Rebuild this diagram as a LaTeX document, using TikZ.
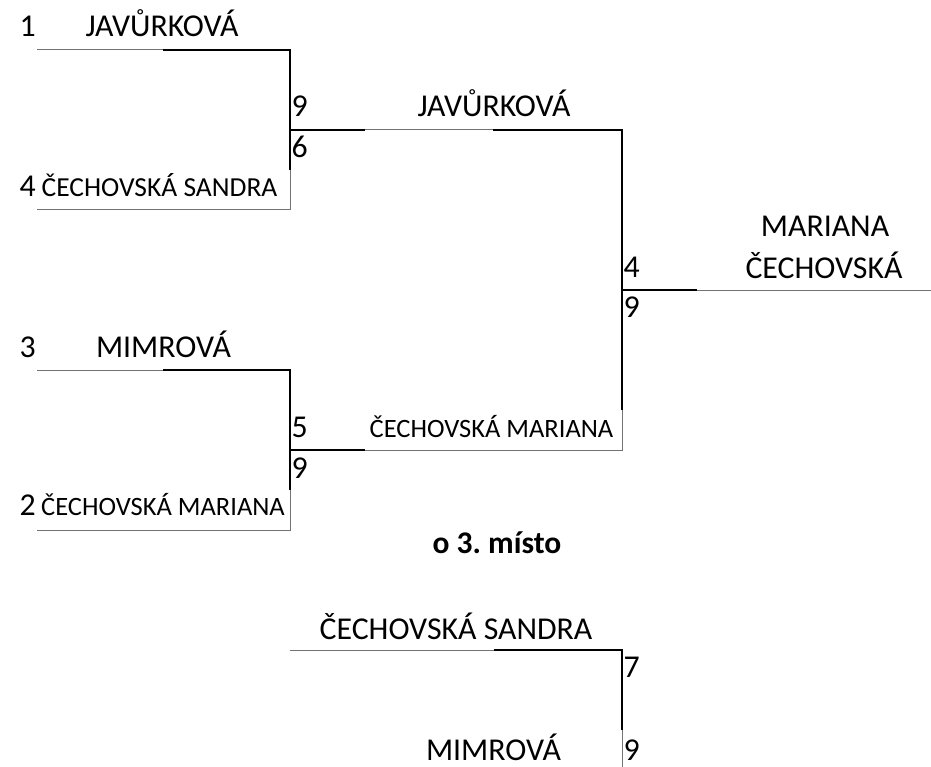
\documentclass[tikz,border=0pt]{standalone}
\usepackage{fontspec}
\setmainfont{Carlito}
\frenchspacing
\begin{document}
\begin{tikzpicture}[x=1pt,y=-1pt,
  thinl/.style={draw=black!55,line width=1pt},
  thickl/.style={draw=black,line width=2.4pt},
  big/.style={inner sep=0pt,anchor=base,font=\fontsize{31.8}{36}\selectfont},
  bigw/.style={big,anchor=base west},
  small/.style={inner sep=0pt,anchor=base,font=\fontsize{27.5}{33}\selectfont},
  smaller/.style={inner sep=0pt,anchor=base,font=\fontsize{26.5}{32}\selectfont},
  bold/.style={inner sep=0pt,anchor=base,font=\fontsize{31.5}{36}\selectfont\bfseries}]
\useasboundingbox (0,0) rectangle (931,767);
% coordinates
\coordinate (a1) at (37,50);  \coordinate (a2) at (163,50); \coordinate (a3) at (290,50);
\coordinate (a4) at (290,170); \coordinate (a5) at (290,210); \coordinate (a6) at (37,210);
\coordinate (am) at (290,130); \coordinate (b1) at (365,130); \coordinate (b2) at (493,130);
\coordinate (b3) at (622,130); \coordinate (b4) at (622,410); \coordinate (b5) at (622,450);
\coordinate (b6) at (365,450); \coordinate (bm) at (290,450);
\coordinate (c1) at (37,370); \coordinate (c2) at (163,370); \coordinate (c3) at (290,370);
\coordinate (c4) at (290,490); \coordinate (c5) at (290,530); \coordinate (c6) at (37,530);
\coordinate (f0) at (622,290); \coordinate (f1) at (697,290); \coordinate (f2) at (931,290);
\coordinate (t1) at (290,650); \coordinate (t2) at (494,650); \coordinate (t3) at (622,650);
\coordinate (t4) at (622,730); \coordinate (t5) at (622,767);
% thin lines
\draw[thinl] (a1) -- (a2);
\draw[thinl] (a4) -- (a5) -- (a6);
\draw[thinl] (b1) -- (b2);
\draw[thinl] (c1) -- (c2);
\draw[thinl] (c4) -- (c5) -- (c6);
\draw[thinl] (b4) -- (b5) -- (b6);
\draw[thinl] (f1) -- (f2);
\draw[thinl] (t1) -- (t2);
\draw[thinl] (t4) -- (t5);
% thick lines
\draw[thickl] (a2) -- (a3) -- (a4);
\draw[thickl] (am) -- (b1);
\draw[thickl] (b2) -- (b3) -- (b4);
\draw[thickl] (f0) -- (f1);
\draw[thickl] (c2) -- (c3) -- (c4);
\draw[thickl] (bm) -- (b6);
\draw[thickl] (t2) -- (t3) -- (t4);
% texts
\node[bigw] (s1) at (19.5,37) {1};
\node[big] (p1) at (162,37) {JAVŮRKOVÁ};
\node[bigw] (s4) at (19.5,197) {4};
\node[small] (p4) at (159.5,197) {ČECHOVSKÁ SANDRA};
\node[bigw] (r1a) at (291.5,117) {9};
\node[bigw] (r1b) at (291.5,158) {6};
\node[big] (w1) at (494,117) {JAVŮRKOVÁ};
\node[bigw] (s3) at (19.5,357) {3};
\node[big] (p3) at (163.5,357) {MIMROVÁ};
\node[bigw] (r2a) at (291.5,437) {5};
\node[bigw] (r2b) at (291.5,478) {9};
\node[smaller] (w2) at (491.5,437) {ČECHOVSKÁ MARIANA};
\node[bigw] (s2) at (19.5,515) {2};
\node[smaller] (p2) at (163,515) {ČECHOVSKÁ MARIANA};
\node[bigw] (r3a) at (623.5,277) {4};
\node[bigw] (r3b) at (623.5,317) {9};
\node[big] (ch1) at (825,237) {MARIANA};
\node[big] (ch2) at (824,278) {ČECHOVSKÁ};
\node[bold] (tt) at (497,553) {o 3. místo};
\node[big] (q1) at (456,639) {ČECHOVSKÁ SANDRA};
\node[bigw] (r4a) at (623.5,677) {7};
\node[big] (q2) at (493.5,760) {MIMROVÁ};
\node[bigw] (r4b) at (623.5,760) {9};
\end{tikzpicture}
\end{document}
